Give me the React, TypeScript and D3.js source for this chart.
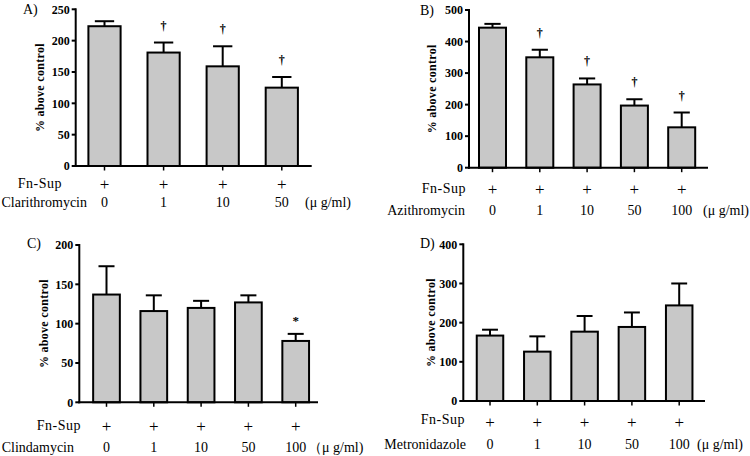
import React from "react";
import * as d3 from "d3";

// ---- data ----
const aCats = ["0", "1", "10", "50"];
const aMeans = [223, 181, 159, 125];
const aSem = [8, 16, 32, 17];
const aMarks = ["", "†", "†", "†"];

const bCats = ["0", "1", "10", "50", "100"];
const bMeans = [444, 350, 264, 197, 128];
const bSem = [12, 24, 19, 20, 47];
const bMarks = ["", "†", "†", "†", "†"];

const cCats = ["0", "1", "10", "50", "100"];
const cMeans = [137, 116, 120, 127, 78];
const cSem = [36, 20, 9, 9, 9];
const cMarks = ["", "", "", "", "*"];

const dCats = ["0", "1", "10", "50", "100"];
const dMeans = [167, 126, 177, 189, 244];
const dSem = [15, 39, 40, 37, 56];
const dMarks = ["", "", "", "", ""];

const panelTags = ["A)", "B)", "C)", "D)"];
const drugNames = ["Clarithromycin", "Azithromycin", "Clindamycin", "Metronidazole"];
const yTicksA = [0, 50, 100, 150, 200, 250];
const yTicksB = [0, 100, 200, 300, 400, 500];
const yTicksC = [0, 50, 100, 150, 200];
const yTicksD = [0, 100, 200, 300, 400];
const unitLabels = ["(μ g/ml)", "(μ g/ml)", "（μ g/ml)", "(μ g/ml)"];
const rowLabel = "Fn-Sup";
const yTitle = "% above control";

// ---- layout (positions only) ----
const layouts = [
  { axisX: 75.7, axisEnd: 311.7, c0: 104.5, step: 59.1, bw: 32.2, y0: 166, yTop: 9.3,
    tagX: 23, tagY: 14, yLabelX: 40, fnY: 188, plusY: 189.6, numY: 207, fnEnd: 62, drugEnd: 87, unitX: 305 },
  { axisX: 469, axisEnd: 708, c0: 492.5, step: 47.3, bw: 27, y0: 167.7, yTop: 10,
    tagX: 420, tagY: 14.5, yLabelX: 432, fnY: 192.5, plusY: 194.6, numY: 215, fnEnd: 466, drugEnd: 465, unitX: 703 },
  { axisX: 79.3, axisEnd: 318, c0: 106.5, step: 47.3, bw: 26.7, y0: 402.3, yTop: 245,
    tagX: 27, tagY: 248, yLabelX: 44, fnY: 429.5, plusY: 431.6, numY: 452, fnEnd: 81, drugEnd: 74, unitX: 308 },
  { axisX: 463.3, axisEnd: 705, c0: 490, step: 47.3, bw: 26.5, y0: 401, yTop: 244.3,
    tagX: 420, tagY: 248, yLabelX: 431, fnY: 423.5, plusY: 428.2, numY: 449, fnEnd: 465, drugEnd: 466, unitX: 697 },
];

const panels = [
  { cats: aCats, means: aMeans, sem: aSem, marks: aMarks, ticks: yTicksA },
  { cats: bCats, means: bMeans, sem: bSem, marks: bMarks, ticks: yTicksB },
  { cats: cCats, means: cMeans, sem: cSem, marks: cMarks, ticks: yTicksC },
  { cats: dCats, means: dMeans, sem: dSem, marks: dMarks, ticks: yTicksD },
];

const TS: React.CSSProperties = { fontFamily: "\"Liberation Serif\"" };
const BAR_FILL = "#c8c8c8";

function Panel({ idx }: { idx: number }) {
  const p = panels[idx];
  const L = layouts[idx];
  const n = p.cats.length;
  const pi = 1 - L.bw / L.step;
  const x = d3
    .scaleBand<string>()
    .domain(p.cats)
    .range([L.c0 - L.step / 2, L.c0 + (n - 1) * L.step + L.step / 2])
    .paddingInner(pi)
    .paddingOuter(pi / 2);
  const yMax = p.ticks[p.ticks.length - 1];
  const y = d3.scaleLinear().domain([0, yMax]).range([L.y0, L.yTop]);
  const bw = x.bandwidth();
  const cap = bw * 0.3;

  return (
    <g fill="#000">
      {p.cats.map((c, i) => {
        const bx = x(c)!;
        const cx = bx + bw / 2;
        const top = y(p.means[i]);
        const et = y(p.means[i] + p.sem[i]);
        return (
          <g key={c}>
            <line x1={cx} x2={cx} y1={top} y2={et} stroke="#000" strokeWidth={2} />
            <line x1={cx - cap} x2={cx + cap} y1={et} y2={et} stroke="#000" strokeWidth={2} />
            <rect x={bx} y={top} width={bw} height={L.y0 - top} fill={BAR_FILL} stroke="#000" strokeWidth={2} />
            {p.marks[i] === "†" && (
              <text style={TS} x={cx} y={et - 17 + 4} textAnchor="middle" fontSize={12} fontWeight="bold">†</text>
            )}
            {p.marks[i] === "*" && (
              <text style={TS} x={cx} y={et - 16 + 7} textAnchor="middle" fontSize={13} fontWeight="bold">*</text>
            )}
          </g>
        );
      })}
      <line x1={L.axisX} x2={L.axisX} y1={y(yMax) - 1} y2={L.y0 + 1} stroke="#000" strokeWidth={2} />
      {p.ticks.map((t) => (
        <g key={t}>
          <line x1={L.axisX - 4} x2={L.axisX} y1={y(t)} y2={y(t)} stroke="#000" strokeWidth={2} />
          <text style={TS} x={L.axisX - 6} y={y(t) + 4.2} textAnchor="end" fontSize={12} fontWeight="bold">{t}</text>
        </g>
      ))}
      <line x1={L.axisX - 1} x2={L.axisEnd} y1={L.y0} y2={L.y0} stroke="#000" strokeWidth={2} />
      {p.cats.map((c) => {
        const cx = x(c)! + bw / 2;
        return (
          <g key={"t" + c}>
            <line x1={cx} x2={cx} y1={L.y0} y2={L.y0 + 4.5} stroke="#000" strokeWidth={1.5} />
            <text style={TS} x={cx} y={L.plusY} textAnchor="middle" fontSize={17}>+</text>
            <text style={TS} x={cx} y={L.numY} textAnchor="middle" fontSize={14}>{c}</text>
          </g>
        );
      })}
      <text
        style={TS}
        transform={`translate(${L.yLabelX},${(L.y0 + y(yMax)) / 2}) rotate(-90)`}
        textAnchor="middle"
        dominantBaseline="central"
        fontSize={12}
        fontWeight="bold"
        letterSpacing={0.3}
      >
        {yTitle}
      </text>
      <text style={TS} x={L.tagX} y={L.tagY} fontSize={14}>{panelTags[idx]}</text>
      <text style={TS} x={L.fnEnd} y={L.fnY} textAnchor="end" fontSize={14} letterSpacing={0.5}>{rowLabel}</text>
      <text style={TS} x={L.drugEnd} y={L.numY} textAnchor="end" fontSize={14}>{drugNames[idx]}</text>
      <text style={TS} x={L.unitX} y={L.numY} fontSize={14}>{unitLabels[idx]}</text>
    </g>
  );
}

export default function App() {
  return (
    <svg
      width={750}
      height={456}
      viewBox="0 0 750 456"
      style={{ position: "absolute", left: 0, top: 0, background: "#fff" }}
    >
      <rect x={0} y={0} width={750} height={456} fill="#fff" />
      {[0, 1, 2, 3].map((i) => (
        <Panel key={i} idx={i} />
      ))}
    </svg>
  );
}
